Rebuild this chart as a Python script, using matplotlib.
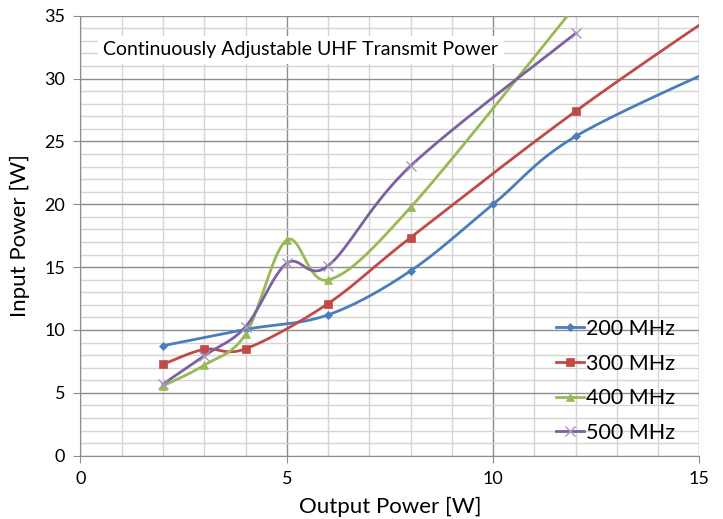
import numpy as np
import matplotlib
matplotlib.use("Agg")
import matplotlib.pyplot as plt
from matplotlib.ticker import MultipleLocator

plt.rcParams['font.family'] = ['Lato', 'DejaVu Sans']

# Data
x_200 = [2, 4, 6, 8, 10, 12, 16]
y_200 = [8.75, 10.05, 11.2, 14.7, 20.0, 25.4, 31.7]
x_300 = [2, 3, 4, 6, 8, 12, 16]
y_300 = [7.27, 8.46, 8.5, 12.1, 17.35, 27.4, 36.5]
x_400 = [2, 3, 4, 5, 6, 8, 12]
y_400 = [5.55, 7.2, 9.65, 17.15, 13.98, 19.75, 35.8]
x_500 = [2, 3, 4, 5, 6, 8, 12]
y_500 = [5.7, 7.95, 10.25, 15.3, 15.1, 23.05, 33.6]
labels = ['200 MHz', '300 MHz', '400 MHz', '500 MHz']
colors = ['#4A7EBB', '#BE4B48', '#98B954', '#7D60A0']
markers = ['D', 's', '^', 'x']
msizes = [4, 6, 6, 7]
title = 'Continuously Adjustable UHF Transmit Power'


def smooth(xs, ys, n=40):
    P = np.column_stack([xs, ys]).astype(float)
    out = []
    m = len(P)
    for i in range(m - 1):
        p0 = P[i - 1] if i > 0 else P[i]
        p1 = P[i]
        p2 = P[i + 1]
        p3 = P[i + 2] if i + 2 < m else P[i + 1]
        c1 = p1 + (p2 - p0) / 6.0
        c2 = p2 - (p3 - p1) / 6.0
        t = np.linspace(0, 1, n)[:, None]
        seg = ((1 - t) ** 3) * p1 + 3 * ((1 - t) ** 2) * t * c1 + 3 * (1 - t) * t ** 2 * c2 + t ** 3 * p2
        out.append(seg if i == 0 else seg[1:])
    s = np.vstack(out)
    return s[:, 0], s[:, 1]


fig = plt.figure(figsize=(7.23, 5.19), dpi=100)
ax = fig.add_axes([0.1113, 0.122, 0.856, 0.8477])

series = [(x_200, y_200), (x_300, y_300), (x_400, y_400), (x_500, y_500)]
for (xs, ys), lab, c, mk, ms in zip(series, labels, colors, markers, msizes):
    sx, sy = smooth(xs, ys)
    ax.plot(sx, sy, color=c, lw=2, zorder=3)
    mc = '#A995C4' if mk == 'x' else c
    ax.plot(xs, ys, linestyle='none', marker=mk, color=mc, markersize=ms,
            markeredgewidth=1.0 if mk == 'x' else 0.5, zorder=4)
    ax.plot([], [], color=c, lw=2, marker=mk, markersize=ms, markerfacecolor=mc,
            markeredgecolor=mc, markeredgewidth=1.0 if mk == 'x' else 0.5,
            label=lab)

ax.set_xlim(0, 15)
ax.set_ylim(0, 35)
ax.xaxis.set_major_locator(MultipleLocator(5))
ax.xaxis.set_minor_locator(MultipleLocator(1))
ax.yaxis.set_major_locator(MultipleLocator(5))
ax.yaxis.set_minor_locator(MultipleLocator(1))
ax.grid(which='major', color='#8c8c8c', lw=1.0, zorder=0)
ax.grid(which='minor', color='#d4d4d4', lw=1.0, zorder=0)
ax.set_axisbelow(True)
for s in ['top', 'right']:
    ax.spines[s].set_visible(False)
for s in ['left', 'bottom']:
    ax.spines[s].set_color('#8c8c8c')
ax.tick_params(which='major', direction='out', length=5, color='#8c8c8c',
               labelsize=13, pad=6)
ax.tick_params(which='minor', length=0)
ax.set_xlabel('Output Power [W]', fontsize=16, labelpad=7)
ax.set_ylabel('Input Power [W]', fontsize=16, labelpad=10)

ax.text(0.55, 32.3, title, fontsize=14, va='center', ha='left', zorder=5,
        bbox=dict(facecolor='white', edgecolor='none', pad=4))

leg = ax.legend(loc='lower right', bbox_to_anchor=(0.985, -0.005), frameon=False,
                fontsize=15.5, handlelength=1.3, handletextpad=0.1,
                labelspacing=0.68, borderaxespad=0.3)

fig.savefig('out.png', dpi=100)
